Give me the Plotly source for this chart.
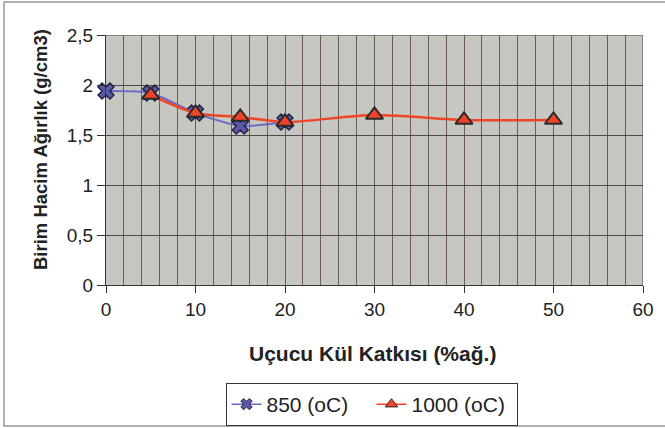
import plotly.graph_objects as go

x850 = [0, 5, 10, 15, 20]
y850 = [1.94, 1.92, 1.72, 1.59, 1.63]
x1000 = [5, 10, 15, 20, 30, 40, 50]
y1000 = [1.90, 1.72, 1.68, 1.63, 1.70, 1.65, 1.65]
xticks = [0, 10, 20, 30, 40, 50, 60]
yticks = [0, 0.5, 1, 1.5, 2, 2.5]

FONT = "Liberation Sans, Arial, sans-serif"
BLUE_LINE = "#6a6ac4"
BLUE_MK = "#5a5aa8"
RED = "#f04428"

fig = go.Figure()
fig.add_trace(go.Scatter(
    x=x850, y=y850, name="850 (oC)", mode="lines+markers", showlegend=False,
    cliponaxis=False,
    line=dict(color=BLUE_LINE, width=2, shape="spline", smoothing=0.6),
    marker=dict(symbol="x", size=14, color=BLUE_MK,
                line=dict(color="#222244", width=1.5)),
))
fig.add_trace(go.Scatter(
    x=x1000, y=y1000, name="1000 (oC)", mode="lines+markers", showlegend=False,
    cliponaxis=False,
    line=dict(color=RED, width=2.5, shape="spline", smoothing=0.8),
    marker=dict(symbol="triangle-up", size=15, color=RED,
                line=dict(color="#2a2a2a", width=2)),
))
# legend entries (small legend symbols as in the reference)
fig.add_trace(go.Scatter(
    x=[None], y=[None], name="850 (oC)", mode="lines+markers",
    line=dict(color=BLUE_LINE, width=1.5),
    marker=dict(symbol="x", size=10, color=BLUE_MK, line=dict(color="#222244", width=1)),
))
fig.add_trace(go.Scatter(
    x=[None], y=[None], name="1000 (oC)", mode="lines+markers",
    line=dict(color=RED, width=1.5),
    marker=dict(symbol="triangle-up", size=11, color=RED, line=dict(color="#2a2a2a", width=1)),
))

fig.update_layout(
    width=665, height=428,
    margin=dict(l=106, r=22, t=35, b=143, autoexpand=False),
    paper_bgcolor="white",
    plot_bgcolor="#c6c7c0",
    separators=",.",
    font=dict(family=FONT, size=19, color="#222"),
    showlegend=True,
    legend=dict(
        orientation="h", xref="container", yref="container",
        x=371.5 / 665, xanchor="center", y=1 - 383 / 428, yanchor="top",
        bordercolor="#333", borderwidth=1, bgcolor="rgba(255,255,255,0)",
        font=dict(family=FONT, size=21, color="#222"),
        traceorder="normal", entrywidth=100,
    ),
    shapes=[dict(type="rect", xref="paper", yref="paper",
                 x0=(4 - 106) / 537, x1=(672 - 106) / 537,
                 y0=-(426 - 285) / 250, y1=1 + (35 - 2) / 250,
                 line=dict(color="#999", width=1.5), layer="below")],
    annotations=[
        dict(text="<b>Uçucu Kül Katkısı (%ağ.)</b>", xref="paper", yref="paper",
             x=(372 - 106) / 537, y=-(353 - 285) / 250, showarrow=False,
             xanchor="center", yanchor="middle", font=dict(size=21, color="#222")),
        dict(text="<b>Birim Hacim Ağırlık (g/cm3)</b>", xref="paper", yref="paper",
             x=(40 - 106) / 537, y=(285 - 150) / 250, showarrow=False, textangle=-90,
             xanchor="center", yanchor="middle", font=dict(size=18.5, color="#222")),
    ],
)
fig.update_xaxes(
    range=[0, 60], tickvals=xticks, ticks="outside", ticklen=7,
    tickcolor="#333", showline=True, linecolor="#333", linewidth=1,
    showgrid=False, zeroline=False, automargin=False,
    minor=dict(dtick=2, showgrid=True, gridcolor="#6e5a58", gridwidth=1),
    tickfont=dict(size=19),
)
fig.update_yaxes(
    range=[0, 2.5], tickvals=yticks, ticks="outside", ticklen=8,
    tickcolor="#333", showline=True, linecolor="#333", linewidth=1,
    showgrid=True, gridcolor="#4a4a4a", gridwidth=1, zeroline=False,
    automargin=False, tickfont=dict(size=19),
)
fig.add_shape(type="line", xref="x", yref="y", x0=60, x1=60, y0=0, y1=2.5,
              line=dict(color="#444", width=1))
fig.add_shape(type="line", xref="x", yref="y", x0=0, x1=60, y0=2.5, y1=2.5,
              line=dict(color="#444", width=1))

fig.write_html("out.html")
